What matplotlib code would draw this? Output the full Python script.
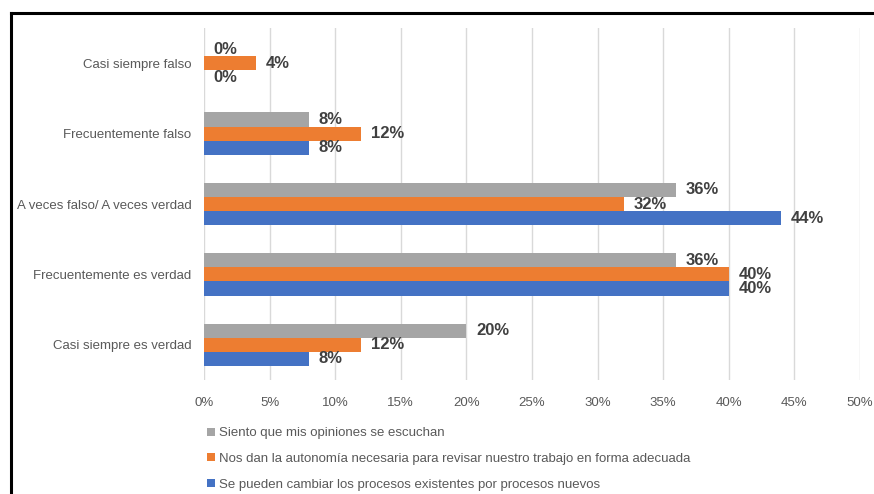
import numpy as np
import matplotlib
matplotlib.use("Agg")
import matplotlib.pyplot as plt
from matplotlib.lines import Line2D
from matplotlib.ticker import FuncFormatter

plt.rcParams['font.family'] = ['Liberation Sans Narrow', 'Liberation Sans', 'DejaVu Sans']

categorias = ["Casi siempre falso", "Frecuentemente falso",
              "A veces falso/ A veces verdad", "Frecuentemente es verdad",
              "Casi siempre es verdad"]

series = [
    "Siento que mis opiniones se escuchan",
    "Nos dan la autonomía necesaria para revisar nuestro trabajo en forma adecuada",
    "Se pueden cambiar los procesos existentes por procesos nuevos",
]
opiniones = [0, 8, 36, 36, 20]
autonomia = [4, 12, 32, 40, 12]
procesos = [0, 8, 44, 40, 8]

colores = ["#A5A5A5", "#ED7D31", "#4472C4"]

fig = plt.figure(figsize=(8.74, 4.94), dpi=100)
ax = fig.add_axes([204 / 874, 1 - 380 / 494, 656 / 874, 352 / 494])

y = np.arange(len(categorias))
h = 0.2
desplaz = [-h, 0, h]
barras = []
for vals, col, d, nombre in zip([opiniones, autonomia, procesos], colores, desplaz, series):
    b = ax.barh(y + d, vals, height=h, color=col, label=nombre, zorder=3)
    barras.append(b)
    for yy, v in zip(y + d, vals):
        ax.annotate(f"{v}%", (v, yy), xytext=(7, 0), textcoords="offset points",
                    va="center", ha="left", fontsize=12, fontweight="bold",
                    color="#404040", zorder=4)

ax.set_ylim(len(categorias) - 0.5, -0.5)
ax.set_xlim(0, 50)
ax.set_xticks(np.arange(0, 51, 5))
ax.xaxis.set_major_formatter(FuncFormatter(lambda v, p: f"{int(v)}%"))
ax.set_yticks(y)
ax.set_yticklabels(categorias)
ax.tick_params(axis="both", length=0, labelsize=9.5, colors="#595959")
ax.tick_params(axis="x", pad=12)
ax.tick_params(axis="y", pad=9)
ax.grid(axis="x", color="#D9D9D9", linewidth=1, zorder=0)
for s in ax.spines.values():
    s.set_visible(False)

fig.legend(handles=barras, labels=series, loc="upper left",
           bbox_to_anchor=(202 / 874, 1 - 422 / 494), frameon=False,
           fontsize=9.5, labelcolor="#595959", handlelength=0.55, handleheight=0.55,
           handletextpad=0.35, labelspacing=1.05, borderaxespad=0)

# marco negro a la izquierda y arriba
xb, yb = 11 / 874, 1 - 13 / 494
fig.add_artist(Line2D([xb, xb], [0, yb], color="black", linewidth=2.2))
fig.add_artist(Line2D([xb, 1], [yb, yb], color="black", linewidth=2.2))

fig.savefig("out.png", dpi=100)
